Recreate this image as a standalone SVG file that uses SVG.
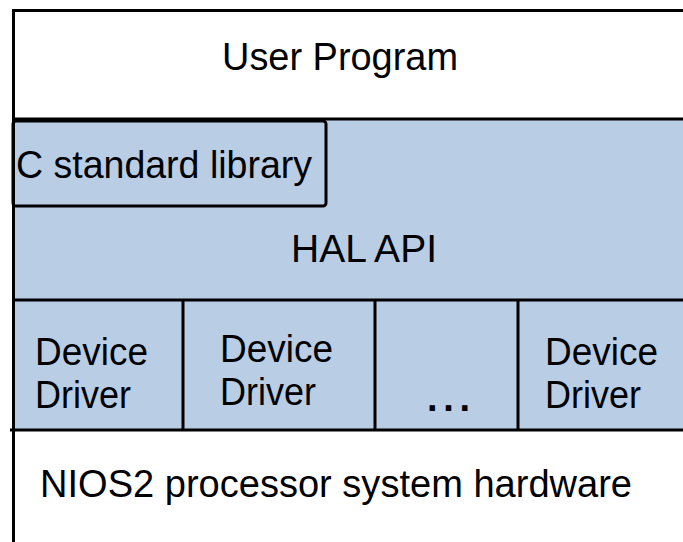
<svg xmlns="http://www.w3.org/2000/svg" width="683" height="542" viewBox="0 0 683 542">
  <style>
    .lbl { font-family: "Liberation Sans", Arial, sans-serif; font-size: 38px; fill: #000; }
    .edge { stroke: #000; stroke-width: 3; fill: none; }
    .blue { fill: #b9cde5; }
  </style>
  <rect width="683" height="542" fill="#fff"/>

  <!-- User program layer -->
  <g id="user-program">
    <text class="lbl" x="222" y="70" textLength="236" lengthAdjust="spacingAndGlyphs">User Program</text>
  </g>

  <!-- HAL API layer with C library on top -->
  <g id="hal-api">
    <rect class="blue" x="13" y="119" width="670" height="181"/>
    <text class="lbl" x="291" y="262" textLength="146" lengthAdjust="spacingAndGlyphs">HAL API</text>
  </g>
  <g id="c-library">
    <rect class="blue" x="13" y="121" width="313" height="85" rx="3" stroke="#000" stroke-width="3"/>
    <text class="lbl" x="16" y="178" textLength="296" lengthAdjust="spacingAndGlyphs">C standard library</text>
  </g>

  <!-- Device driver row -->
  <g id="driver-row">
    <rect class="blue" x="13" y="300" width="670" height="130"/>
  </g>
  <g id="driver-1">
    <text class="lbl" x="35" y="365" textLength="113" lengthAdjust="spacingAndGlyphs">Device</text>
    <text class="lbl" x="35" y="408" textLength="96" lengthAdjust="spacingAndGlyphs">Driver</text>
  </g>
  <g id="driver-2">
    <text class="lbl" x="220" y="362" textLength="113" lengthAdjust="spacingAndGlyphs">Device</text>
    <text class="lbl" x="220" y="405" textLength="96" lengthAdjust="spacingAndGlyphs">Driver</text>
  </g>
  <g id="driver-more">
    <text class="lbl" x="427" y="411" font-weight="bold" textLength="43" lengthAdjust="spacing">...</text>
  </g>
  <g id="driver-n">
    <text class="lbl" x="545" y="365" textLength="113" lengthAdjust="spacingAndGlyphs">Device</text>
    <text class="lbl" x="545" y="408" textLength="96" lengthAdjust="spacingAndGlyphs">Driver</text>
  </g>

  <!-- Hardware layer -->
  <g id="hardware">
    <text class="lbl" x="40" y="497" textLength="592" lengthAdjust="spacingAndGlyphs">NIOS2 processor system hardware</text>
  </g>

  <!-- Layer boundaries -->
  <g id="connectors">
    <path class="edge" d="M12 10.5 H683"/>
    <path class="edge" d="M13.5 9 V542"/>
    <path class="edge" d="M12 119 H683"/>
    <path class="edge" d="M13 300 H683"/>
    <path class="edge" d="M10 430 H683"/>
    <path class="edge" d="M183 300 V430 M375 300 V430 M518 300 V430"/>
  </g>
</svg>
